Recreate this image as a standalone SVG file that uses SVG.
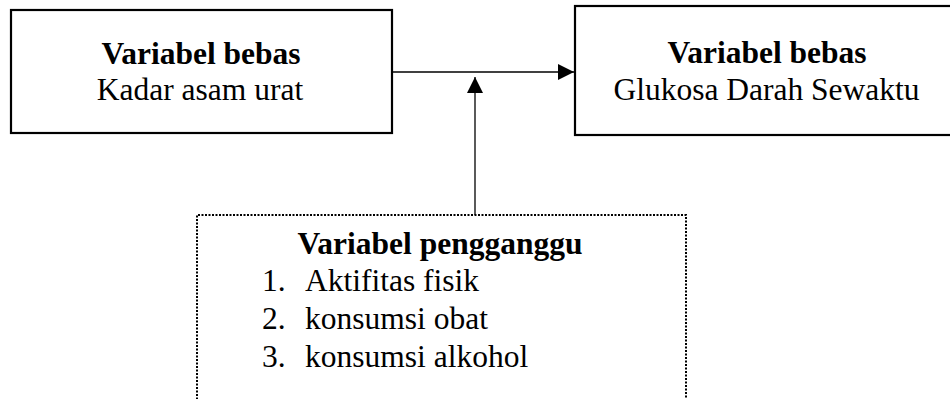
<svg xmlns="http://www.w3.org/2000/svg" width="950" height="399" viewBox="0 0 950 399">
<style>
.box{fill:#fff;stroke:#000;stroke-width:2.2}
.dot{fill:none;stroke:#000;stroke-width:2;stroke-dasharray:2 1.5}
.t{font-family:"Liberation Serif","Times New Roman",serif;font-size:31.5px;fill:#000}
.b{font-weight:bold}
.c{text-anchor:middle}
.ln{stroke:#000;stroke-width:1.3;fill:none}
</style>
<defs>
<marker id="ah" markerWidth="16" markerHeight="16" viewBox="0 0 16 16" refX="16" refY="8" orient="auto" markerUnits="userSpaceOnUse">
<path d="M0,0 L16,8 L0,16 Z" fill="#000"/>
</marker>
</defs>
<g id="node-kadar">
<rect class="box" x="11" y="10" width="381" height="123"/>
<text class="t b c" x="201" y="64">Variabel bebas</text>
<text class="t c" x="200" y="100">Kadar asam urat</text>
</g>
<g id="node-glukosa">
<rect class="box" x="575" y="6" width="385" height="129"/>
<text class="t b c" x="767" y="63">Variabel bebas</text>
<text class="t c" x="766.5" y="100">Glukosa Darah Sewaktu</text>
</g>
<g id="node-pengganggu">
<path class="dot" d="M197,410 L197,215 L686,215 L686,410"/>
<text class="t b c" x="440" y="254">Variabel pengganggu</text>
<text class="t" x="262" y="291">1.</text>
<text class="t" x="305" y="291">Aktifitas fisik</text>
<text class="t" x="262" y="329">2.</text>
<text class="t" x="305" y="329">konsumsi obat</text>
<text class="t" x="262" y="367">3.</text>
<text class="t" x="305" y="367">konsumsi alkohol</text>
</g>
<g id="connectors">
<line class="ln" x1="392" y1="72" x2="574" y2="72" marker-end="url(#ah)"/>
<line class="ln" x1="475" y1="215" x2="475" y2="77" marker-end="url(#ah)"/>
</g>
</svg>
